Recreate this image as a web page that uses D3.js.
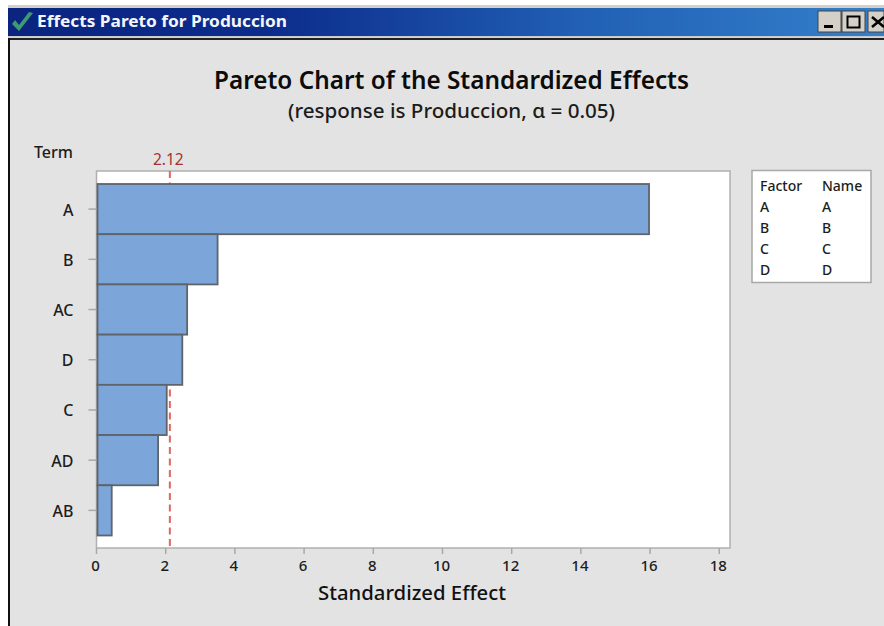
<!DOCTYPE html>
<html><head><meta charset="utf-8">
<script src="https://cdn.jsdelivr.net/npm/d3@7/dist/d3.min.js"></script>
<style>html,body{margin:0;padding:0;background:#fff}svg{display:block}text{font-family:"Noto Sans","Open Sans",sans-serif}</style>
</head><body><svg id="c" width="884" height="626"></svg>
<script>
const terms=["A","B","AC","D","C","AD","AB"];
const effects=[15.97,3.5,2.62,2.48,2.03,1.78,0.44];
const xTicks=[0,2,4,6,8,10,12,14,16,18];
const criticalValue=2.12;
const legendFactors=["A","B","C","D"];
const legendNames=["A","B","C","D"];
const svg=d3.select("#c");
const defs=svg.append("defs");
const g=defs.append("linearGradient").attr("id","tb");
g.append("stop").attr("offset","0").attr("stop-color","#0a2480");
g.append("stop").attr("offset","0.3").attr("stop-color","#0c2c8c");
g.append("stop").attr("offset","0.65").attr("stop-color","#2160b4");
g.append("stop").attr("offset","1").attr("stop-color","#3480cc");
// window
svg.append("rect").attr("x",8).attr("y",5).attr("width",876).attr("height",4).attr("fill","#d4d0c8");
svg.append("rect").attr("x",8).attr("y",8).attr("width",876).attr("height",28).attr("fill","url(#tb)");
svg.append("rect").attr("x",8).attr("y",36).attr("width",876).attr("height",590).attr("fill","#e3e3e3");
svg.append("rect").attr("x",8).attr("y",36).attr("width",876).attr("height",1.5).attr("fill","#c8c8c8");
svg.append("rect").attr("x",8).attr("y",38).attr("width",876).attr("height",2).attr("fill","#222");
svg.append("rect").attr("x",8).attr("y",38).attr("width",2).attr("height",588).attr("fill","#111");
svg.append("path").attr("d","M12 24 L19 31 L33 13 L29 12 L19 25 L15 20 Z").attr("fill","#3f9a72");
svg.append("text").attr("x",37).attr("y",27).attr("font-size",16).attr("font-weight",700).attr("fill","#f4f6fb").attr("textLength",250).attr("lengthAdjust","spacingAndGlyphs").text("Effects Pareto for Produccion");
// window buttons
[818,842,868].forEach((bx,i)=>{
  svg.append("rect").attr("x",bx).attr("y",11).attr("width",i==2?16:23).attr("height",21).attr("fill","#d4d0c8").attr("stroke","#444").attr("stroke-width",1);
});
svg.append("rect").attr("x",824).attr("y",25).attr("width",9).attr("height",3).attr("fill","#000");
svg.append("rect").attr("x",847.5).attr("y",16.5).attr("width",12).attr("height",11).attr("fill","none").attr("stroke","#000").attr("stroke-width",2);
svg.append("path").attr("d","M872 17 L884 27 M884 17 L872 27").attr("stroke","#000").attr("stroke-width",2.5);
// titles
svg.append("text").attr("x",451.5).attr("y",89).attr("text-anchor","middle").attr("font-size",24.5).attr("font-weight",600).attr("fill","#0c0c0c").attr("textLength",475).attr("lengthAdjust","spacingAndGlyphs").text("Pareto Chart of the Standardized Effects");
svg.append("text").attr("x",451.5).attr("y",118).attr("text-anchor","middle").attr("font-size",20).attr("font-weight",500).attr("fill","#1c1c1c").attr("textLength",327).attr("lengthAdjust","spacingAndGlyphs").text("(response is Produccion, α = 0.05)");
// plot
const L=96.5,R=730,T=171,B=548;
const x=d3.scaleLinear().domain([0,18.31]).range([L,R]);
const y=d3.scaleBand().domain(terms).range([184,535.5]).padding(0);
svg.append("rect").attr("x",L).attr("y",T).attr("width",R-L).attr("height",B-T).attr("fill","#fff").attr("stroke","#b0b0b0").attr("stroke-width",1.5);
svg.append("line").attr("x1",x(criticalValue)).attr("x2",x(criticalValue)).attr("y1",T).attr("y2",B)
 .attr("stroke","#e0665f").attr("stroke-width",2).attr("stroke-dasharray","7 4.5");
svg.append("g").selectAll("rect").data(terms).join("rect")
 .attr("x",x(0)+1).attr("y",d=>y(d)).attr("width",(d,i)=>x(effects[i])-x(0)-1).attr("height",y.bandwidth())
 .attr("fill","#7ca6d9").attr("stroke","#5f646b").attr("stroke-width",1.8);
svg.append("text").attr("x",x(criticalValue)-1.5).attr("y",164.5).attr("text-anchor","middle").attr("font-size",15.5).attr("fill","#a83030").text(criticalValue.toFixed(2));
// axes
const ax=svg.append("g").attr("transform",`translate(-0.5,${B})`).call(d3.axisBottom(x).tickValues(xTicks).tickFormat(d3.format("d")).tickSize(6).tickPadding(6));
ax.select(".domain").remove();
ax.selectAll("line").attr("stroke","#a8a8a8").attr("stroke-width",1.5);
ax.selectAll("text").attr("font-size",15).attr("font-weight",500).attr("fill","#1c1c1c").attr("dx",-1).attr("font-family",'"Noto Sans",sans-serif');
const ay=svg.append("g").attr("transform",`translate(${L},0)`).call(d3.axisLeft(y).tickSize(8).tickPadding(14));
ay.select(".domain").remove();
ay.selectAll("line").attr("stroke","#a8a8a8").attr("stroke-width",1.5);
ay.selectAll("text").attr("font-size",16).attr("font-weight",500).attr("fill","#1c1c1c").attr("dx",-1).attr("dy","0.4em").attr("font-family",'"Noto Sans",sans-serif');
svg.append("text").attr("x",34).attr("y",158).attr("font-size",16).attr("font-weight",500).attr("fill","#1c1c1c").text("Term");
svg.append("text").attr("x",412).attr("y",600).attr("text-anchor","middle").attr("font-size",20.5).attr("font-weight",500).attr("fill","#111").attr("textLength",188).attr("lengthAdjust","spacingAndGlyphs").text("Standardized Effect");
// legend
svg.append("rect").attr("x",752).attr("y",170.5).attr("width",119).attr("height",112).attr("fill","#fff").attr("stroke","#a8a8a8").attr("stroke-width",1.5);
const col=(cx,head,vals)=>{
 svg.append("text").attr("x",cx).attr("y",191).attr("font-size",14).attr("font-weight",500).attr("fill","#1c1c1c").text(head);
 svg.append("g").selectAll("text").data(vals).join("text").attr("x",cx).attr("y",(d,i)=>212+i*21).attr("font-size",14).attr("font-weight",500).attr("fill","#1c1c1c").text(d=>d);
};
col(760,"Factor",legendFactors);
col(822,"Name",legendNames);
</script></body></html>
